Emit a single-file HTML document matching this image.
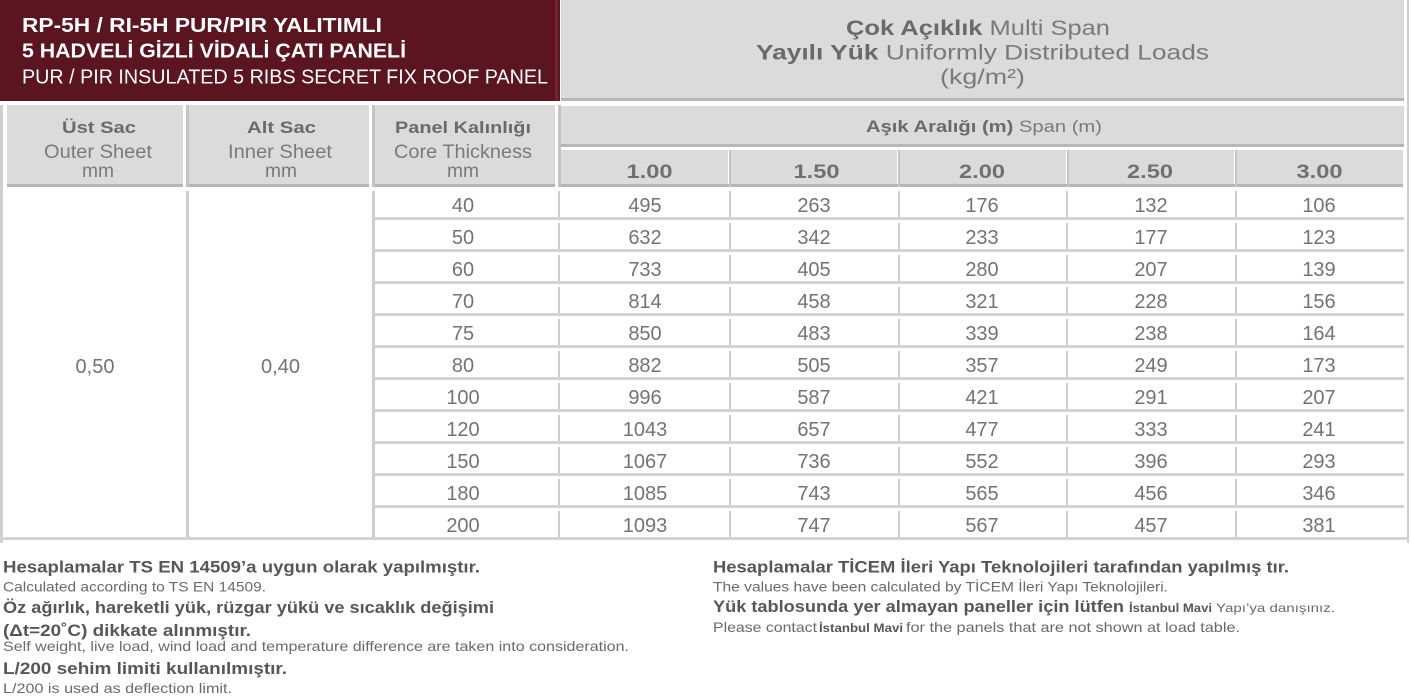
<!DOCTYPE html>
<html><head><meta charset="utf-8">
<style>
html,body{margin:0;padding:0;background:#fff;width:1411px;height:697px;overflow:hidden;}
svg{display:block;}
text{font-family:"Liberation Sans","DejaVu Sans",sans-serif;}
.b{font-weight:bold;}
.hd{fill:#6a6a6a;}
.hr{fill:#7a7a7a;}
.d{fill:#737373;font-size:20px;}
.fb{fill:#575757;font-weight:bold;font-size:17px;}
.fr{fill:#6a6a6a;font-size:14px;}
</style></head>
<body>
<svg width="1411" height="697" viewBox="0 0 1411 697" xmlns="http://www.w3.org/2000/svg">
<!-- Title box -->
<rect x="0" y="0" width="560" height="101" fill="#5a1520"/>
<rect x="555" y="0" width="3" height="101" fill="#7a1e2d"/>
<text x="22" y="32" font-size="20" class="b" fill="#fff" textLength="360" lengthAdjust="spacingAndGlyphs">RP-5H / RI-5H PUR/PIR YALITIMLI</text>
<text x="22" y="57.5" font-size="20" class="b" fill="#fff" textLength="384" lengthAdjust="spacingAndGlyphs">5 HADVELİ GİZLİ VİDALİ ÇATI PANELİ</text>
<text x="22" y="83.5" font-size="20" fill="#fff" textLength="526" lengthAdjust="spacingAndGlyphs">PUR / PIR INSULATED 5 RIBS SECRET FIX ROOF PANEL</text>

<!-- Right header -->
<rect x="561" y="0" width="843" height="98" fill="#dbdbdb"/>
<rect x="561" y="98" width="843" height="3" fill="#b6b6b6"/>
<text x="846" y="35" font-size="21" textLength="264" lengthAdjust="spacingAndGlyphs"><tspan class="b hd">Çok Açıklık</tspan><tspan class="hr"> Multi Span</tspan></text>
<text x="756" y="59.5" font-size="21" textLength="453" lengthAdjust="spacingAndGlyphs"><tspan class="b hd">Yayılı Yük</tspan><tspan class="hr"> Uniformly Distributed Loads</tspan></text>
<text x="940" y="84" font-size="21" class="hr" textLength="85" lengthAdjust="spacingAndGlyphs">(kg/m²)</text>

<!-- outer lines -->
<rect x="1407" y="0" width="2" height="543" fill="#cfcfcf"/>
<rect x="0" y="105" width="3" height="438" fill="#cfcfcf"/>

<!-- Header row 2 left cells -->
<rect x="7" y="105" width="176" height="79" fill="#dbdbdb"/>
<rect x="7" y="184" width="176" height="3" fill="#b6b6b6"/>
<rect x="186" y="105" width="3" height="82" fill="#c4c4c4"/>
<rect x="189" y="105" width="180" height="79" fill="#dbdbdb"/>
<rect x="189" y="184" width="180" height="3" fill="#b6b6b6"/>
<rect x="372" y="105" width="3" height="82" fill="#c4c4c4"/>
<rect x="375" y="105" width="180" height="79" fill="#dbdbdb"/>
<rect x="375" y="184" width="180" height="3" fill="#b6b6b6"/>
<rect x="558" y="105" width="3" height="82" fill="#c4c4c4"/>

<text x="62" y="133" font-size="17" class="b hd" textLength="74" lengthAdjust="spacingAndGlyphs">Üst Sac</text>
<text x="44" y="158" font-size="19" class="hr" textLength="108" lengthAdjust="spacingAndGlyphs">Outer Sheet</text>
<text x="82" y="177" font-size="19" class="hr" textLength="32" lengthAdjust="spacingAndGlyphs">mm</text>

<text x="247" y="133" font-size="17" class="b hd" textLength="69" lengthAdjust="spacingAndGlyphs">Alt Sac</text>
<text x="228" y="158" font-size="19" class="hr" textLength="104" lengthAdjust="spacingAndGlyphs">Inner Sheet</text>
<text x="265" y="177" font-size="19" class="hr" textLength="32" lengthAdjust="spacingAndGlyphs">mm</text>

<text x="395" y="133" font-size="17" class="b hd" textLength="136" lengthAdjust="spacingAndGlyphs">Panel Kalınlığı</text>
<text x="394" y="158" font-size="19" class="hr" textLength="138" lengthAdjust="spacingAndGlyphs">Core Thickness</text>
<text x="447" y="177" font-size="19" class="hr" textLength="32" lengthAdjust="spacingAndGlyphs">mm</text>

<!-- Span header -->
<rect x="561" y="106" width="843" height="38" fill="#dbdbdb"/>
<rect x="561" y="144" width="843" height="3" fill="#b6b6b6"/>
<text x="866" y="132" font-size="17" textLength="236" lengthAdjust="spacingAndGlyphs"><tspan class="b hd">Aşık Aralığı (m)</tspan><tspan class="hr"> Span (m)</tspan></text>

<!-- Sub headers -->
<rect x="561" y="150" width="167" height="34" fill="#dbdbdb"/>
<rect x="731" y="150" width="166" height="34" fill="#dbdbdb"/>
<rect x="900" y="150" width="166" height="34" fill="#dbdbdb"/>
<rect x="1069" y="150" width="165" height="34" fill="#dbdbdb"/>
<rect x="1237" y="150" width="166" height="34" fill="#dbdbdb"/>
<rect x="561" y="184" width="842" height="3" fill="#b6b6b6"/>
<rect x="729" y="150" width="2" height="37" fill="#c4c4c4"/>
<rect x="898" y="150" width="2" height="37" fill="#c4c4c4"/>
<rect x="1067" y="150" width="2" height="37" fill="#c4c4c4"/>
<rect x="1235" y="150" width="2" height="37" fill="#c4c4c4"/>
<g font-size="19" class="b" fill="#707070" text-anchor="middle">
<text x="649.5" y="178" textLength="46" lengthAdjust="spacingAndGlyphs">1.00</text>
<text x="816.5" y="178" textLength="46" lengthAdjust="spacingAndGlyphs">1.50</text>
<text x="982" y="178" textLength="46" lengthAdjust="spacingAndGlyphs">2.00</text>
<text x="1150" y="178" textLength="46" lengthAdjust="spacingAndGlyphs">2.50</text>
<text x="1319.5" y="178" textLength="46" lengthAdjust="spacingAndGlyphs">3.00</text>
</g>

<!-- Data grid -->
<rect x="186" y="191" width="3" height="349" fill="#cfcfcf"/>
<rect x="372" y="191" width="3" height="349" fill="#cfcfcf"/>
<g fill="#d3d3d3">
<rect x="375" y="217" width="1029" height="3"/>
<rect x="375" y="249" width="1029" height="3"/>
<rect x="375" y="281" width="1029" height="3"/>
<rect x="375" y="313" width="1029" height="3"/>
<rect x="375" y="345" width="1029" height="3"/>
<rect x="375" y="377" width="1029" height="3"/>
<rect x="375" y="409" width="1029" height="3"/>
<rect x="375" y="441" width="1029" height="3"/>
<rect x="375" y="473" width="1029" height="3"/>
<rect x="375" y="505" width="1029" height="3"/>
<rect x="0" y="537" width="1409" height="3"/>
</g>
<g fill="#cdcdcd">
<rect x="558" y="191" width="2" height="26"/><rect x="729" y="191" width="2" height="26"/><rect x="898" y="191" width="2" height="26"/><rect x="1066" y="191" width="2" height="26"/><rect x="1235" y="191" width="2" height="26"/>
<rect x="558" y="223" width="2" height="26"/><rect x="729" y="223" width="2" height="26"/><rect x="898" y="223" width="2" height="26"/><rect x="1066" y="223" width="2" height="26"/><rect x="1235" y="223" width="2" height="26"/>
<rect x="558" y="255" width="2" height="26"/><rect x="729" y="255" width="2" height="26"/><rect x="898" y="255" width="2" height="26"/><rect x="1066" y="255" width="2" height="26"/><rect x="1235" y="255" width="2" height="26"/>
<rect x="558" y="287" width="2" height="26"/><rect x="729" y="287" width="2" height="26"/><rect x="898" y="287" width="2" height="26"/><rect x="1066" y="287" width="2" height="26"/><rect x="1235" y="287" width="2" height="26"/>
<rect x="558" y="319" width="2" height="26"/><rect x="729" y="319" width="2" height="26"/><rect x="898" y="319" width="2" height="26"/><rect x="1066" y="319" width="2" height="26"/><rect x="1235" y="319" width="2" height="26"/>
<rect x="558" y="351" width="2" height="26"/><rect x="729" y="351" width="2" height="26"/><rect x="898" y="351" width="2" height="26"/><rect x="1066" y="351" width="2" height="26"/><rect x="1235" y="351" width="2" height="26"/>
<rect x="558" y="383" width="2" height="26"/><rect x="729" y="383" width="2" height="26"/><rect x="898" y="383" width="2" height="26"/><rect x="1066" y="383" width="2" height="26"/><rect x="1235" y="383" width="2" height="26"/>
<rect x="558" y="415" width="2" height="26"/><rect x="729" y="415" width="2" height="26"/><rect x="898" y="415" width="2" height="26"/><rect x="1066" y="415" width="2" height="26"/><rect x="1235" y="415" width="2" height="26"/>
<rect x="558" y="447" width="2" height="26"/><rect x="729" y="447" width="2" height="26"/><rect x="898" y="447" width="2" height="26"/><rect x="1066" y="447" width="2" height="26"/><rect x="1235" y="447" width="2" height="26"/>
<rect x="558" y="479" width="2" height="26"/><rect x="729" y="479" width="2" height="26"/><rect x="898" y="479" width="2" height="26"/><rect x="1066" y="479" width="2" height="26"/><rect x="1235" y="479" width="2" height="26"/>
<rect x="558" y="511" width="2" height="26"/><rect x="729" y="511" width="2" height="26"/><rect x="898" y="511" width="2" height="26"/><rect x="1066" y="511" width="2" height="26"/><rect x="1235" y="511" width="2" height="26"/>
</g>

<!-- merged cells -->
<text x="95" y="373" class="d" text-anchor="middle">0,50</text>
<text x="280.5" y="373" class="d" text-anchor="middle">0,40</text>

<!-- data -->
<g class="d" text-anchor="middle">
<text x="463" y="212">40</text><text x="645" y="212">495</text><text x="814" y="212">263</text><text x="982" y="212">176</text><text x="1151" y="212">132</text><text x="1319" y="212">106</text>
<text x="463" y="244">50</text><text x="645" y="244">632</text><text x="814" y="244">342</text><text x="982" y="244">233</text><text x="1151" y="244">177</text><text x="1319" y="244">123</text>
<text x="463" y="276">60</text><text x="645" y="276">733</text><text x="814" y="276">405</text><text x="982" y="276">280</text><text x="1151" y="276">207</text><text x="1319" y="276">139</text>
<text x="463" y="308">70</text><text x="645" y="308">814</text><text x="814" y="308">458</text><text x="982" y="308">321</text><text x="1151" y="308">228</text><text x="1319" y="308">156</text>
<text x="463" y="340">75</text><text x="645" y="340">850</text><text x="814" y="340">483</text><text x="982" y="340">339</text><text x="1151" y="340">238</text><text x="1319" y="340">164</text>
<text x="463" y="372">80</text><text x="645" y="372">882</text><text x="814" y="372">505</text><text x="982" y="372">357</text><text x="1151" y="372">249</text><text x="1319" y="372">173</text>
<text x="463" y="404">100</text><text x="645" y="404">996</text><text x="814" y="404">587</text><text x="982" y="404">421</text><text x="1151" y="404">291</text><text x="1319" y="404">207</text>
<text x="463" y="436">120</text><text x="645" y="436">1043</text><text x="814" y="436">657</text><text x="982" y="436">477</text><text x="1151" y="436">333</text><text x="1319" y="436">241</text>
<text x="463" y="468">150</text><text x="645" y="468">1067</text><text x="814" y="468">736</text><text x="982" y="468">552</text><text x="1151" y="468">396</text><text x="1319" y="468">293</text>
<text x="463" y="500">180</text><text x="645" y="500">1085</text><text x="814" y="500">743</text><text x="982" y="500">565</text><text x="1151" y="500">456</text><text x="1319" y="500">346</text>
<text x="463" y="532">200</text><text x="645" y="532">1093</text><text x="814" y="532">747</text><text x="982" y="532">567</text><text x="1151" y="532">457</text><text x="1319" y="532">381</text>
</g>

<!-- Footer left -->
<text x="3" y="572.5" class="fb" textLength="477" lengthAdjust="spacingAndGlyphs">Hesaplamalar TS EN 14509’a uygun olarak yapılmıştır.</text>
<text x="3" y="591.5" class="fr" textLength="263" lengthAdjust="spacingAndGlyphs">Calculated according to TS EN 14509.</text>
<text x="3" y="613" class="fb" textLength="491" lengthAdjust="spacingAndGlyphs">Öz ağırlık, hareketli yük, rüzgar yükü ve sıcaklık değişimi</text>
<text x="3" y="636" class="fb" textLength="248" lengthAdjust="spacingAndGlyphs">(Δt=20˚C) dikkate alınmıştır.</text>
<text x="3" y="651" class="fr" textLength="626" lengthAdjust="spacingAndGlyphs">Self weight, live load, wind load and temperature difference are taken into consideration.</text>
<text x="3" y="674" class="fb" textLength="284" lengthAdjust="spacingAndGlyphs">L/200 sehim limiti kullanılmıştır.</text>
<text x="3" y="693" class="fr" textLength="229" lengthAdjust="spacingAndGlyphs">L/200 is used as deflection limit.</text>

<!-- Footer right -->
<text x="713" y="572.5" class="fb" textLength="576" lengthAdjust="spacingAndGlyphs">Hesaplamalar TİCEM İleri Yapı Teknolojileri tarafından yapılmış tır.</text>
<text x="713" y="591.5" class="fr" textLength="455" lengthAdjust="spacingAndGlyphs">The values have been calculated by TİCEM İleri Yapı Teknolojileri.</text>
<text x="713" y="612" class="fb" textLength="411" lengthAdjust="spacingAndGlyphs">Yük tablosunda yer almayan paneller için lütfen</text>
<text x="1129" y="612" font-size="12" font-weight="bold" fill="#575757" textLength="83" lengthAdjust="spacingAndGlyphs">İstanbul Mavi</text>
<text x="1216" y="612" font-size="12" fill="#6a6a6a" textLength="119" lengthAdjust="spacingAndGlyphs">Yapı’ya danışınız.</text>
<text x="713" y="632" class="fr" textLength="104" lengthAdjust="spacingAndGlyphs">Please contact</text>
<text x="819" y="632" font-size="12" font-weight="bold" fill="#575757" textLength="84" lengthAdjust="spacingAndGlyphs">İstanbul Mavi</text>
<text x="906" y="632" class="fr" textLength="334" lengthAdjust="spacingAndGlyphs">for the panels that are not shown at load table.</text>
</svg>
</body></html>
